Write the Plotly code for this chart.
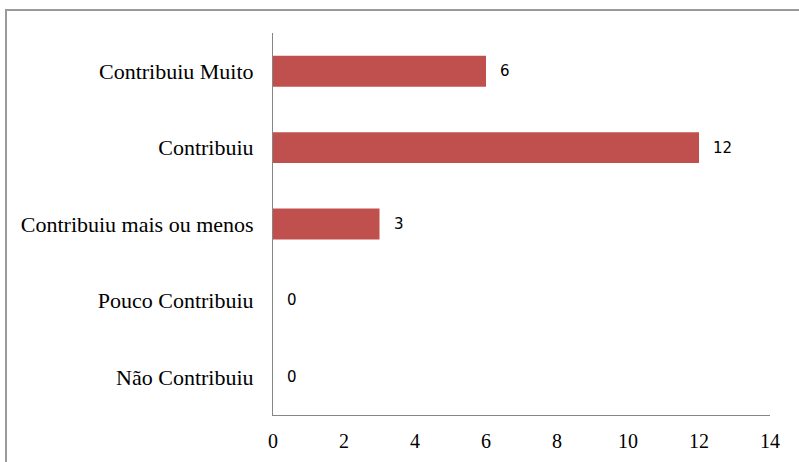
import plotly.graph_objects as go

categories = ["Não Contribuiu", "Pouco Contribuiu", "Contribuiu mais ou menos", "Contribuiu", "Contribuiu Muito"]
values = [0, 0, 3, 12, 6]
x_ticks = [0, 2, 4, 6, 8, 10, 12, 14]

W, H = 799, 462
L, R, T, B = 273, 29, 33, 47
pw, ph = W - L - R, H - T - B

fig = go.Figure()
fig.add_trace(go.Bar(
    y=categories, x=values, orientation="h",
    marker=dict(color="#C0504D", line=dict(width=0)),
    hoverinfo="skip",
))

for c, v in zip(categories, values):
    fig.add_annotation(
        x=v, y=c, xref="x", yref="y", text=str(v), showarrow=False,
        xanchor="left", yanchor="middle", xshift=12,
        font=dict(family="DejaVu Sans", size=15, color="#000000"),
    )

# outer chart border (cut off at right and bottom)
fig.add_shape(
    type="rect", xref="paper", yref="paper",
    x0=(6 - L) / pw, x1=(W + 20 - L) / pw,
    y0=-(H + 20 - (T + ph)) / ph, y1=(T + ph - 10) / ph,
    line=dict(color="#9a9a9a", width=2), fillcolor="rgba(0,0,0,0)", layer="below",
)

fig.update_layout(
    width=W, height=H,
    margin=dict(l=L, r=R, t=T, b=B, pad=0, autoexpand=False),
    paper_bgcolor="white", plot_bgcolor="white",
    showlegend=False, bargap=0.595,
    font=dict(family="Liberation Serif", color="#000000"),
)
fig.update_xaxes(
    range=[0, 14], tickvals=x_ticks, ticktext=[str(t) for t in x_ticks],
    showgrid=False, zeroline=False, automargin=False,
    showline=True, linecolor="#868686", linewidth=1,
    ticks="outside", ticklen=8, tickcolor="rgba(0,0,0,0)",
    tickfont=dict(family="Liberation Serif", size=20, color="#000000"),
)
fig.update_yaxes(
    categoryorder="array", categoryarray=categories,
    range=[-0.5, 4.5], automargin=False,
    showgrid=False, zeroline=False,
    showline=True, linecolor="#868686", linewidth=1,
    ticks="outside", ticklen=14, tickcolor="rgba(0,0,0,0)",
    tickfont=dict(family="Liberation Serif", size=22, color="#000000"),
)

fig.write_html(
    "out.html",
    config={"displayModeBar": False},
    post_script="document.body.style.margin='0';document.body.style.overflow='hidden';",
)
